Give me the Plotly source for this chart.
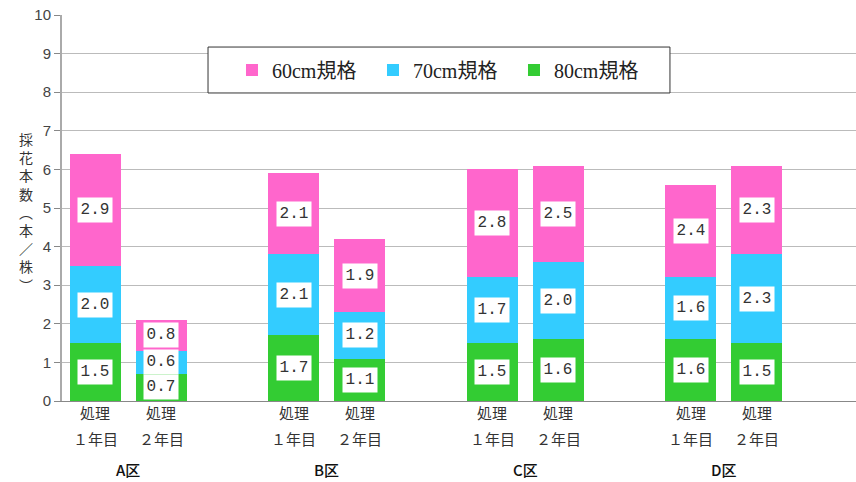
import plotly.graph_objects as go

# ---- data ----
groups = ["A区", "B区", "C区", "D区"]
line1 = ["処理", "処理"]
line2 = ["１年目", "２年目"]
series_names = ["80cm規格", "70cm規格", "60cm規格"]
v80 = [1.5, 0.7, 1.7, 1.1, 1.5, 1.6, 1.6, 1.5]
v70 = [2.0, 0.6, 2.1, 1.2, 1.7, 2.0, 1.6, 2.3]
v60 = [2.9, 0.8, 2.1, 1.9, 2.8, 2.5, 2.4, 2.3]
colors = ["#33CC33", "#33CCFF", "#FF66CC"]
y_ticks = list(range(0, 11))

# categories: two bars per group plus an empty gap slot
bar_cats = []
all_cats = []
for g in groups:
    for i in range(2):
        c = f"{g}-{i+1}"
        bar_cats.append(c)
        all_cats.append(c)
    all_cats.append(f"{g}-gap")

fig = go.Figure()
series = [v80, v70, v60]
for name, vals, col in zip(series_names, series, colors):
    fig.add_trace(go.Bar(
        x=bar_cats, y=vals, name=name,
        marker=dict(color=col, line=dict(width=0)),
    ))

annotations = []
# value labels in white boxes at each segment centre
for bi, cat in enumerate(bar_cats):
    base = 0.0
    for vals in series:
        v = vals[bi]
        annotations.append(dict(
            x=cat, y=base + v / 2, xref="x", yref="y",
            text=f"{v:.1f}", showarrow=False,
            font=dict(family="Liberation Mono, DejaVu Sans Mono", size=16, color="#333"),
            bgcolor="white", width=34, height=24, borderpad=0,
        ))
        base += v

# x labels (two lines) and group labels
for bi, cat in enumerate(bar_cats):
    k = bi % 2
    annotations.append(dict(x=cat, y=-0.031, xref="x", yref="paper", yanchor="middle",
                            text=line1[k], showarrow=False,
                            font=dict(family="Noto Sans CJK JP", size=15, color="#333")))
    annotations.append(dict(x=cat, y=-0.096, xref="x", yref="paper", yanchor="middle",
                            text=line2[k], showarrow=False,
                            font=dict(family="Noto Sans CJK JP", size=15, color="#333")))
for gi, g in enumerate(groups):
    annotations.append(dict(x=gi * 3 + 0.5, y=-0.178, xref="x", yref="paper", yanchor="middle",
                            text=g, showarrow=False,
                            font=dict(family="Noto Sans CJK JP", size=15, color="#111", weight=500)))

# vertical y-axis title
ytitle = "採花本数︵本／株︶"
annotations.append(dict(x=-0.057, y=0.49, xref="paper", yref="paper",
                        text="<br>".join(list(ytitle)), showarrow=False,
                        font=dict(family="Noto Sans CJK JP", size=14, color="#333")))

# legend frame
shapes = [dict(type="rect", xref="paper", yref="paper",
               x0=0.1839, x1=0.7657, y0=0.798, y1=0.917,
               line=dict(color="#333", width=1), fillcolor="white", layer="above")]

fig.update_layout(
    barmode="stack",
    bargap=0.23,
    width=856, height=482,
    margin=dict(l=62, r=0, t=15, b=81),
    paper_bgcolor="white", plot_bgcolor="white",
    showlegend=True,
    legend=dict(
        orientation="h", traceorder="reversed",
        x=0.2141, y=0.8575, xanchor="left", yanchor="middle",
        borderwidth=0, bgcolor="rgba(0,0,0,0)",
        entrywidth=96,
        font=dict(family="Liberation Serif, Noto Sans CJK JP", size=20, color="#222"),
    ),
    xaxis=dict(
        type="category", categoryorder="array", categoryarray=all_cats,
        range=[-0.5, len(all_cats) - 0.5],
        showticklabels=False, showgrid=False, ticks="",
        showline=True, linecolor="#888", linewidth=1,
    ),
    yaxis=dict(
        range=[0, 10], tickvals=y_ticks, showgrid=True, gridcolor="#BBBBBB", gridwidth=1,
        showline=True, linecolor="#AAAAAA", linewidth=2,
        ticks="outside", ticklen=6, tickcolor="#888",
        tickfont=dict(family="Liberation Sans", size=15, color="#444"),
        zeroline=False,
    ),
    shapes=shapes,
    annotations=annotations,
)

fig.write_html("out.html")
